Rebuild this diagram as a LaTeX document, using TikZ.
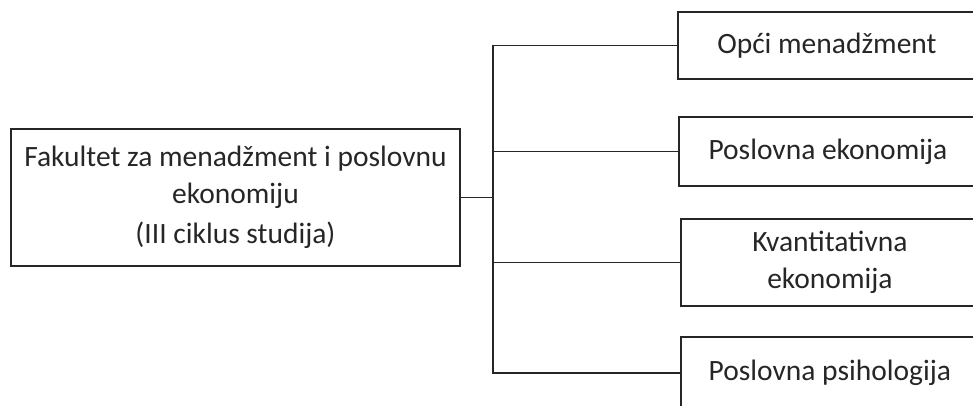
\documentclass[tikz,border=0pt]{standalone}
\usepackage{fontspec}
\setmainfont{Carlito}
\tikzstyle{unit}=[draw=black!85,line width=1.8pt,rectangle,align=center,inner sep=0pt,text=black!85,font=\fontsize{29.5}{37}\selectfont]
\tikzstyle{link} = [draw=black!85,line width=1.8pt,-]
\begin{document}
\begin{tikzpicture}[x=1pt,y=-1pt]
    \useasboundingbox (0,0) rectangle (973,406);
    \clip (0,0) rectangle (973,406);
    % First we draw the faculty box
    \node[unit,minimum width=449pt,minimum height=137pt] (fak) at (235.5,197.5)
        {Fakultet za menadžment i poslovnu\\ekonomiju\\[3pt](III ciklus studija)};

    % Then the study programmes on the right
    \foreach \pos/\h/\name/\txt in {{(677,45.5)/67/opci/Opći menadžment}, {(678,151.5)/69/poslovna/Poslovna ekonomija}, {(680,262.5)/87/kvant/Kvantitativna\\ekonomija}, {(680,373)/72/psiho/Poslovna psihologija}}
        \node[unit,anchor=west,minimum width=298pt,minimum height=\h pt] (\name) at \pos {\txt};

    % Connect the boxes with the branching lines
    \coordinate (split) at ([xshift=32pt]fak.east);
    \path[link] (fak.east) -- (split);
    \foreach \dest in {opci,poslovna,kvant,psiho}
        \path[link] (split) |- (\dest.west);
\end{tikzpicture}
\end{document}
